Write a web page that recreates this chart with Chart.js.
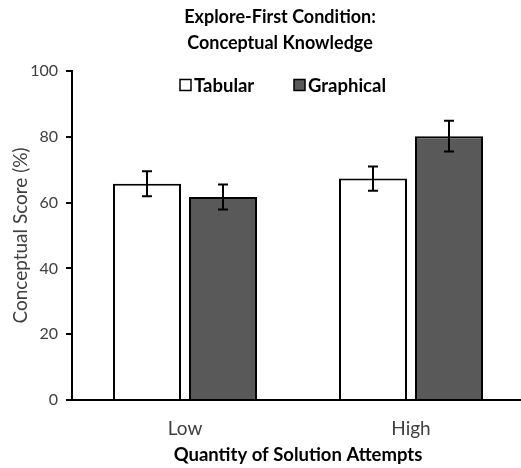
<!DOCTYPE html>
<html><head><meta charset="utf-8">
<script src="https://cdn.jsdelivr.net/npm/chart.js@4.4.0/dist/chart.umd.min.js"></script>
<style>html,body{margin:0;padding:0;overflow:hidden;background:#fff}#wrap{width:560px;height:468px;position:relative}</style>
</head><body><div id="wrap"><canvas id="c"></canvas></div>
<script>
const categories = ['Low', 'High'];
const seriesNames = ['Tabular', 'Graphical'];
const tabularValues = [65.7, 67.3];
const graphicalValues = [61.7, 80.2];
const tabularErrors = [3.8, 3.7];
const graphicalErrors = [3.8, 4.7];
const yTicks = [0, 20, 40, 60, 80, 100];
const titleLines = ['Explore-First Condition:', 'Conceptual Knowledge'];
const yTitle = 'Conceptual Score (%)';
const xTitle = 'Quantity of Solution Attempts';

const FONT = 'Lato';

const errorBars = {
  id: 'errorBars',
  afterDatasetsDraw(chart) {
    const ctx = chart.ctx, y = chart.scales.y;
    chart.data.datasets.forEach((ds, i) => {
      const meta = chart.getDatasetMeta(i);
      meta.data.forEach((bar, j) => {
        const v = ds.data[j], e = ds.errors[j];
        const top = y.getPixelForValue(v + e), bot = y.getPixelForValue(v - e);
        ctx.save();
        ctx.strokeStyle = '#000'; ctx.lineWidth = 2;
        ctx.beginPath();
        ctx.moveTo(bar.x, top); ctx.lineTo(bar.x, bot);
        ctx.moveTo(bar.x - 5, top); ctx.lineTo(bar.x + 5, top);
        ctx.moveTo(bar.x - 5, bot); ctx.lineTo(bar.x + 5, bot);
        ctx.stroke();
        ctx.restore();
      });
    });
  }
};

const boxLegend = {
  id: 'boxLegend',
  afterDraw(chart) {
    const ctx = chart.ctx, a = chart.chartArea;
    const offs = [108, 222];
    const cy = a.top + 14;
    ctx.save();
    ctx.font = 'bold 18.5px ' + FONT;
    ctx.textBaseline = 'middle';
    ctx.textAlign = 'left';
    chart.data.datasets.forEach((ds, i) => {
      const x = a.left + offs[i];
      ctx.fillStyle = ds.backgroundColor;
      ctx.fillRect(x, cy - 5.5, 11, 11);
      ctx.strokeStyle = '#000'; ctx.lineWidth = 1.5;
      ctx.strokeRect(x, cy - 5.5, 11, 11);
      ctx.fillStyle = '#000';
      ctx.fillText(ds.label, x + 14, cy + 1);
    });
    ctx.restore();
  }
};

new Chart(document.getElementById('c'), {
  type: 'bar',
  data: {
    labels: categories,
    datasets: [
      { label: seriesNames[0], data: tabularValues, errors: tabularErrors,
        backgroundColor: '#ffffff', borderColor: '#000000', borderWidth: 2,
        categoryPercentage: 0.6726, barPercentage: 0.895 },
      { label: seriesNames[1], data: graphicalValues, errors: graphicalErrors,
        backgroundColor: '#595959', borderColor: '#000000', borderWidth: 2,
        categoryPercentage: 0.6726, barPercentage: 0.895 }
    ]
  },
  options: {
    responsive: true,
    maintainAspectRatio: false,
    animation: false,
    devicePixelRatio: 1,
    layout: { padding: 0 },
    plugins: {
      legend: { display: false },
      tooltip: { enabled: false },
      title: {
        display: true, text: titleLines, color: '#000',
        font: { family: FONT, size: 18, weight: 'bold', lineHeight: 1.444 },
        padding: { top: 4, bottom: 15 }
      }
    },
    scales: {
      x: {
        type: 'category',
        grid: { display: false },
        border: { display: true, color: '#000', width: 2 },
        ticks: { color: '#404040', font: { family: FONT, size: 19 }, padding: 9 },
        title: { display: true, text: xTitle, color: '#000',
          font: { family: FONT, size: 18.5, weight: 'bold', lineHeight: 1.2 },
          padding: { top: 0, bottom: 2 } },
        afterFit: s => { s.height = 68; }
      },
      y: {
        min: 0, max: 100,
        afterBuildTicks: s => { s.ticks = yTicks.map(v => ({ value: v })); },
        grid: { display: true, drawOnChartArea: false, drawTicks: true, tickLength: 6, color: '#000', lineWidth: 2 },
        border: { display: true, color: '#000', width: 2 },
        ticks: { color: '#404040', font: { family: FONT, size: 16 }, padding: 8 },
        title: { display: true, text: yTitle, color: '#404040',
          font: { family: FONT, size: 19, lineHeight: 1.2 },
          padding: { top: 9, bottom: 0 } },
        afterFit: s => { s.width = 72; }
      },
      yR: {
        type: 'linear', position: 'right', display: true,
        grid: { display: false }, border: { display: false },
        ticks: { display: false },
        afterFit: s => { s.width = 36; }
      }
    }
  },
  plugins: [errorBars, boxLegend]
});
</script></body></html>
